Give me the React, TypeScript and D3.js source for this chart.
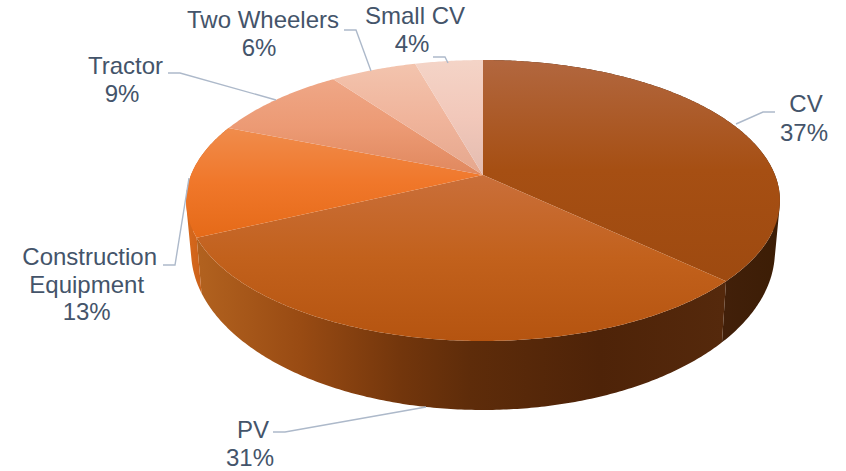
import React from "react";
import * as d3 from "d3";

const categories = ["CV", "PV", "Construction Equipment", "Tractor", "Two Wheelers", "Small CV"];
const values = [37, 31, 13, 9, 5.6, 4.4];

const topColors = [
  ["#b2673f", "#a64f13", "#9e4a10"],
  ["#ca6f3a", "#c2611c", "#b55410"],
  ["#f08c4c", "#f0772a", "#e56a18"],
  ["#efa787", "#ec9a74", "#e0885e"],
  ["#f3c4ae", "#f0b49b", "#e5a78d"],
  ["#f4d4c7", "#f2c8ba", "#e3bcb0"],
];
// side wall shading, left to right across the pie
const sideStops = [
  [{ x: 718, c: "#42200a" }, { x: 780, c: "#3c1d05" }],
  [{ x: 197, c: "#b2621f" }, { x: 300, c: "#994b13" }, { x: 400, c: "#73360c" }, { x: 470, c: "#5e2c0a" }, { x: 600, c: "#4e2308" }, { x: 724, c: "#55290c" }],
  [{ x: 187, c: "#d9691c" }, { x: 203, c: "#c8601a" }],
];

const labelLayout = [
  { xs: [806, 804], ys: [112, 141], lines: ["CV", "37%"], leader: [[736, 124], [763, 112], [775, 112]] },
  { xs: [253, 250], ys: [438, 466], lines: ["PV", "31%"], leader: [[426, 407], [285, 432], [273, 432]] },
  { xs: [89.7, 86.7, 86.7], ys: [265, 293, 320], lines: ["Construction", "Equipment", "13%"], leader: [[189, 178], [175, 265], [163, 265]] },
  { xs: [125.5, 122], ys: [74, 102], lines: ["Tractor", "9%"], leader: [[276, 100], [180, 73], [168, 73]] },
  { xs: [263, 259], ys: [28, 56], lines: ["Two Wheelers", "6%"], leader: [[371, 71], [356, 30], [344, 30]] },
  { xs: [415, 412], ys: [24, 52], lines: ["Small CV", "4%"], leader: [[448, 63], [445, 57], [433, 57]] },
];

const W = 846, H = 471;
const apex = { x: 483, y: 175 };
const persp = { A: 292, a: 104.1, c: -0.1815 };
const base = { cx: 483.5, cy: 251, sx: 292 / 297, sy: 159 / 140.5, topCy: 200.5 };

type Pt = { x: number; y: number };
function project(angle: number): Pt {
  const u = Math.sin(angle), v = -Math.cos(angle);
  const den = 1 + persp.c * v;
  return { x: apex.x + (persp.A * u) / den, y: (persp.a * v + apex.y) / den };
}
function lower(p: Pt): Pt {
  return { x: base.cx + (p.x - base.cx) * base.sx, y: base.cy + (p.y - base.topCy) * base.sy };
}

const arcs = d3.pie<number>().sort(null)(values);
const line = d3.line<Pt>().x((d) => d.x).y((d) => d.y);

function rim(start: number, end: number): Pt[] {
  const n = Math.max(2, Math.ceil((end - start) / 0.01));
  return d3.range(n + 1).map((i) => project(start + ((end - start) * i) / n));
}

function slicePath(start: number, end: number) {
  return line([apex, ...rim(start, end)]) + "Z";
}

// wall of the slice: quads between upper and lower rim, all wound the same way
function wallPath(start: number, end: number) {
  const top = rim(start, end);
  return top
    .slice(1)
    .map((p, i) => {
      const quad = [top[i], p, lower(p), lower(top[i])];
      const area = d3.polygonArea(quad.map((q) => [q.x, q.y] as [number, number]));
      return line(area < 0 ? quad.reverse() : quad) + "Z";
    })
    .join("");
}

export default function App() {
  const sideScales = sideStops.map((stops) =>
    d3.scaleLinear().domain([stops[0].x, stops[stops.length - 1].x]).range([0, 1])
  );
  return (
    <svg width={W} height={H} viewBox={`0 0 ${W} ${H}`} style={{ position: "absolute", left: 0, top: 0, background: "#fff" }}>
      <defs>
        {categories.map((c, i) => (
          <linearGradient key={c} id={`top${i}`} x1="0" y1="0" x2="0" y2="1">
            <stop offset="0" stopColor={topColors[i][0]} />
            <stop offset="0.5" stopColor={topColors[i][1]} />
            <stop offset="1" stopColor={topColors[i][2]} />
          </linearGradient>
        ))}
        {sideStops.map((stops, i) => (
          <linearGradient
            key={i}
            id={`side${i}`}
            gradientUnits="userSpaceOnUse"
            x1={stops[0].x}
            x2={stops[stops.length - 1].x}
            y1={0}
            y2={0}
          >
            {stops.map((s) => (
              <stop key={s.x} offset={sideScales[i](s.x)} stopColor={s.c} />
            ))}
          </linearGradient>
        ))}
      </defs>
      <g>
        {sideStops.map((_, i) => (
          <path key={i} d={wallPath(arcs[i].startAngle, arcs[i].endAngle)} fill={`url(#side${i})`} />
        ))}
      </g>
      <g>
        {arcs.map((d, i) => (
          <path key={categories[i]} d={slicePath(d.startAngle, d.endAngle)} fill={`url(#top${i})`} />
        ))}
      </g>
      <g fill="none" stroke="#adb9ca" strokeWidth={1.4}>
        {labelLayout.map((l) => (
          <polyline key={l.lines[0]} points={l.leader.map((p) => p.join(",")).join(" ")} />
        ))}
      </g>
      <g fontFamily="'Liberation Sans', Arial, sans-serif" fontSize={24} fill="#44546a" textAnchor="middle">
        {labelLayout.map((l) =>
          l.lines.map((t, j) => (
            <text key={t + j} x={l.xs[j]} y={l.ys[j]}>
              {t}
            </text>
          ))
        )}
      </g>
    </svg>
  );
}
